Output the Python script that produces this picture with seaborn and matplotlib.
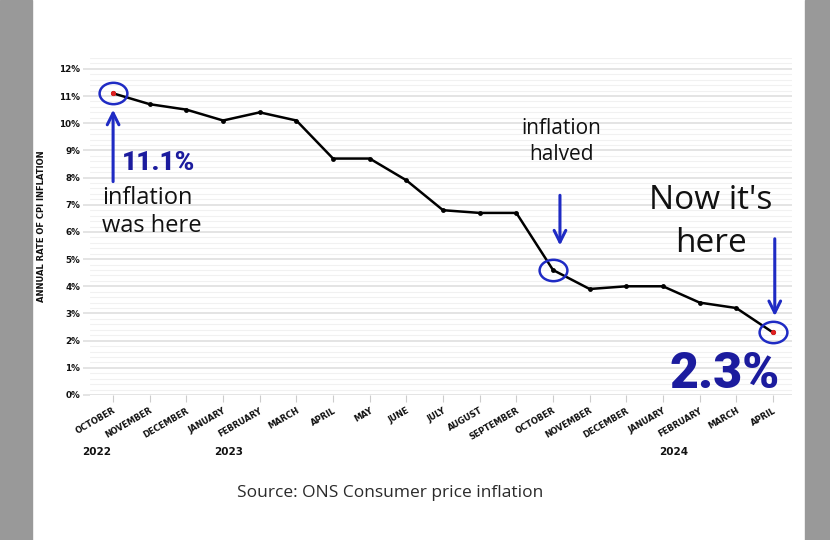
import numpy as np
import pandas as pd
import seaborn as sns
import matplotlib.pyplot as plt
from matplotlib.path import Path
from matplotlib.transforms import Affine2D, blended_transform_factory
from matplotlib.patches import Rectangle
from matplotlib.ticker import MultipleLocator

# Data: UK CPI annual rate, Oct 2022 - Apr 2024
months = ["OCTOBER", "NOVEMBER", "DECEMBER", "JANUARY", "FEBRUARY", "MARCH",
          "APRIL", "MAY", "JUNE", "JULY", "AUGUST", "SEPTEMBER", "OCTOBER",
          "NOVEMBER", "DECEMBER", "JANUARY", "FEBRUARY", "MARCH", "APRIL"]
cpi = [11.1, 10.7, 10.5, 10.1, 10.4, 10.1, 8.7, 8.7, 7.9, 6.8, 6.7, 6.7,
       4.6, 3.9, 4.0, 4.0, 3.4, 3.2, 2.3]
years = ["2022", "2023", "2024"]
year_pos = [-0.45, 3.15, 15.3]

df = pd.DataFrame({"idx": np.arange(len(cpi)), "cpi": cpi})

sns.set_theme(style="white")
plt.rcParams["font.family"] = ["DejaVu Sans"]

fig = plt.figure(figsize=(8.3, 5.4), dpi=100)
fig.patch.set_facecolor("white")
# grey side bands
fig.patches.append(Rectangle((0, 0), 32 / 830, 1, transform=fig.transFigure,
                             color="#999999", zorder=0))
fig.patches.append(Rectangle((805 / 830, 0), 25 / 830, 1, transform=fig.transFigure,
                             color="#999999", zorder=0))

ax = fig.add_axes([90 / 830, 145 / 540, 702 / 830, 337 / 540])

# grid
ax.yaxis.set_major_locator(MultipleLocator(1))
ax.yaxis.set_minor_locator(MultipleLocator(0.2))
ax.grid(axis="y", which="major", color="#dddddd", lw=1.1, zorder=0)
ax.grid(axis="y", which="minor", color="#f1f1f1", lw=0.8, zorder=0)

sns.lineplot(data=df, x="idx", y="cpi", color="black", lw=1.8, marker="o",
             markersize=3.5, markeredgewidth=0, ax=ax, zorder=3)

ends = df.iloc[[0, -1]]
sns.scatterplot(data=ends, x="idx", y="cpi", color="#e02020", s=14,
                linewidth=0, ax=ax, zorder=4)

# hand-drawn style circles
ell = Path(Affine2D().scale(1.3, 1.0).transform(Path.unit_circle().vertices),
           Path.unit_circle().codes)
circ = df.iloc[[0, 12, 18]]
ax.plot(circ["idx"], circ["cpi"], ls="none", marker=ell, markersize=20,
        markerfacecolor="none", markeredgecolor="#1f2bc4", markeredgewidth=1.8,
        zorder=5)

ax.set_xlim(-0.63, 18.52)
ax.set_ylim(0, 12.4)
ax.set_xticks(df["idx"])
ax.set_xticklabels(months, rotation=30, ha="right", rotation_mode="anchor",
                   fontsize=6, fontweight="bold", color="#111111")
ax.set_yticks(range(0, 13))
ax.set_yticklabels([f"{v}%" for v in range(0, 13)], fontsize=6.3,
                   fontweight="bold", color="#111111")
ax.tick_params(axis="x", which="major", length=5, color="#cccccc", width=0.8,
               pad=3, bottom=True)
ax.tick_params(axis="y", which="major", length=5, color="#dddddd", width=1.1,
               pad=2, left=True)
ax.tick_params(axis="y", which="minor", length=0)
for s in ax.spines.values():
    s.set_visible(False)

ax.set_xlabel("")
ax.set_ylabel("ANNUAL RATE OF CPI INFLATION", fontsize=6, fontweight="bold",
              color="#111111")
ax.yaxis.set_label_coords(-0.0627, 0.5)

trans = blended_transform_factory(ax.transData, ax.transAxes)
for yr, xp in zip(years, year_pos):
    ax.text(xp, -0.169, yr, transform=trans, ha="center", va="center",
            fontsize=7.5, fontweight="bold", color="#111111")

# annotations
blue = "#1f2bc4"
navy = "#1c1c9e"
arrow = dict(arrowstyle="->,head_length=0.7,head_width=0.35", color=blue, lw=2.2)
ax.annotate("", xy=(0, 10.6), xytext=(0, 7.75), arrowprops=arrow, zorder=6)
ax.text(0.24, 8.28, "11.1%", ha="left", va="baseline", fontsize=19,
        fontweight=900, color=navy, family="Roboto")
ax.text(-0.3, 7.7, "inflation\nwas here", ha="left", va="top", fontsize=17,
        color="#111111", linespacing=1.25, family="Open Sans")

ax.text(12.22, 10.2, "inflation\nhalved", ha="center", va="top", fontsize=15,
        color="#111111", linespacing=1.3, family="Open Sans")
ax.annotate("", xy=(12.19, 5.4), xytext=(12.19, 7.45), arrowprops=arrow, zorder=6)

ax.text(16.3, 7.75, "Now it's\nhere", ha="center", va="top", fontsize=24,
        color="#111111", linespacing=1.4, family="Open Sans")
ax.annotate("", xy=(18.05, 2.8), xytext=(18.05, 5.85), arrowprops=arrow, zorder=6)
ax.text(18.2, 0.25, "2.3%", ha="right", va="baseline", fontsize=36,
        fontweight=900, color=navy, family="Roboto")

fig.text(390 / 830, 1 - 493 / 540, "Source: ONS Consumer price inflation",
         ha="center", va="center", fontsize=12.5, color="#2a2a2a",
         family="Open Sans")

fig.savefig("out.png", dpi=100)
